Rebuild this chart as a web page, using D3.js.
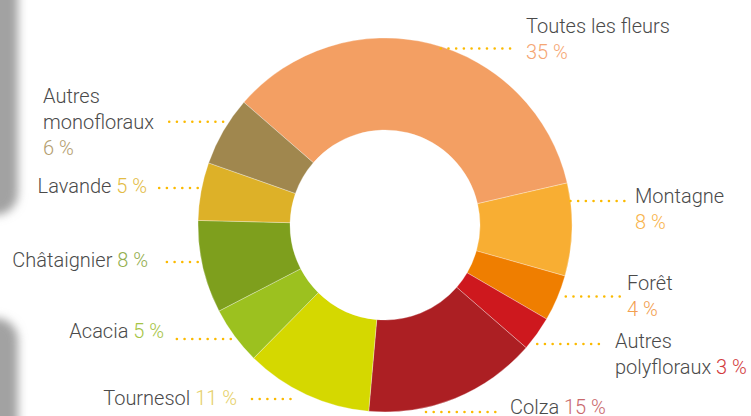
<!DOCTYPE html>
<html>
<head>
<meta charset="utf-8">
<script src="https://cdn.jsdelivr.net/npm/d3@7"></script>
<style>
  html, body { margin: 0; padding: 0; background: #fff; }
  text { font-family: Roboto, "Open Sans", sans-serif; font-weight: 300; font-size: 20px; }
  .name { fill: #4a4a4a; }
</style>
</head>
<body>
<div id="chart"></div>
<script>
/* Miel : répartition par type de fleurs (donut) */

const categories = ["Toutes les fleurs", "Montagne", "Forêt", "Autres polyfloraux", "Colza",
                    "Tournesol", "Acacia", "Châtaignier", "Lavande", "Autres monofloraux"];
const values = [35, 8, 4, 3, 15, 11, 5, 8, 5, 6];
const sliceColors = ["#F39F63", "#F8AE33", "#EF7E00", "#CE181E", "#AC1F23",
                     "#D5D800", "#9CC11F", "#7E9F1D", "#DDB128", "#A0874E"];
const pctColors = ["#F5A673", "#F8B44C", "#F2A050", "#D23A3C", "#C9686B",
                   "#E6D068", "#A6C445", "#93AE4E", "#E3BC45", "#B39D6E"];

const width = 751, height = 416;
const cx = 385, cy = 225, outerR = 187, innerR = 95;

// where each label sits: lines of text, anchor, leader line y and gap to the ring
const layout = [
  { lines: [["Toutes les fleurs"], ["%"]], x: 526, y: 33, anchor: "start", ly: 48.5, gap: -6, lx: 511 },
  { lines: [["Montagne"], ["%"]], x: 635, y: 203, anchor: "start", ly: 201, gap: 0, lx: 627 },
  { lines: [["Forêt"], ["%"]], x: 627, y: 290, anchor: "start", ly: 296.5, gap: 8, lx: 622 },
  { lines: [["Autres"], ["polyfloraux", "%"]], x: 615, y: 348, anchor: "start", ly: 344, gap: 8, lx: 602 },
  { lines: [["Colza", "%"]], x: 510, y: 414, anchor: "start", ly: 412, gap: 41, lx: 497 },
  { lines: [["Tournesol", "%"]], x: 237, y: 405, anchor: "end", ly: 399, gap: 26, lx: 245 },
  { lines: [["Acacia", "%"]], x: 164, y: 338, anchor: "end", ly: 339, gap: 6, lx: 173 },
  { lines: [["Châtaignier", "%"]], x: 148, y: 267, anchor: "end", ly: 262, gap: 4, lx: 160 },
  { lines: [["Lavande", "%"]], x: 147, y: 193, anchor: "end", ly: 188, gap: 4, lx: 152 },
  { lines: [["Autres"], ["monofloraux"], ["%"]], x: 43, y: 103, anchor: "start", ly: 121.7, gap: 6, lx: 166 }
];

const svg = d3.select("#chart")
  .append("svg")
  .attr("width", width)
  .attr("height", height)
  .attr("viewBox", [0, 0, width, height]);

// grey page shadows on the left edge
const defs = svg.append("defs");
defs.append("filter").attr("id", "blur")
  .attr("x", "-50%").attr("y", "-50%").attr("width", "200%").attr("height", "200%")
  .append("feGaussianBlur").attr("stdDeviation", 5);

svg.append("rect").attr("x", -40).attr("y", -40).attr("width", 58).attr("height", 255)
  .attr("rx", 22).attr("fill", "#a2a2a2").attr("filter", "url(#blur)");
svg.append("rect").attr("x", -40).attr("y", 318).attr("width", 58).attr("height", 150)
  .attr("rx", 22).attr("fill", "#a2a2a2").attr("filter", "url(#blur)");

const data = categories.map((c, i) => ({ name: c, value: values[i], i }));

const start = -49 * Math.PI / 180;
const pie = d3.pie()
  .sort(null)
  .value(d => d.value)
  .startAngle(start)
  .endAngle(start + 2 * Math.PI);

const arc = d3.arc().innerRadius(innerR).outerRadius(outerR);

const g = svg.append("g").attr("transform", `translate(${cx},${cy})`);

g.selectAll("path")
  .data(pie(data))
  .join("path")
  .attr("d", arc)
  .attr("fill", d => sliceColors[d.data.i])
  .attr("stroke", "#fff")
  .attr("stroke-opacity", 0.5)
  .attr("stroke-width", 0.6);

// leader lines (dotted) from the ring towards each label
layout.forEach((L, i) => {
  const dy = L.ly - cy;
  const half = Math.sqrt(Math.max(0, outerR * outerR - dy * dy));
  const right = L.lx > cx;
  const x0 = right ? cx + half + L.gap : cx - half - L.gap;
  svg.append("line")
    .attr("x1", x0).attr("x2", L.lx)
    .attr("y1", L.ly).attr("y2", L.ly)
    .attr("stroke", "#FBBA00")
    .attr("stroke-width", 2.6)
    .attr("stroke-linecap", "round")
    .attr("stroke-dasharray", "0,7.7");
});

// labels
layout.forEach((L, i) => {
  const t = svg.append("text")
    .attr("text-anchor", L.anchor);
  L.lines.forEach((parts, k) => {
    parts.forEach((p, j) => {
      const ts = t.append("tspan");
      if (j === 0) ts.attr("x", L.x).attr("y", L.y + k * 26);
      if (p === "%") {
        ts.text((j > 0 ? " " : "") + values[i] + " %").attr("fill", pctColors[i]);
      } else {
        ts.text(p).attr("class", "name");
      }
    });
  });
});
</script>
</body>
</html>
